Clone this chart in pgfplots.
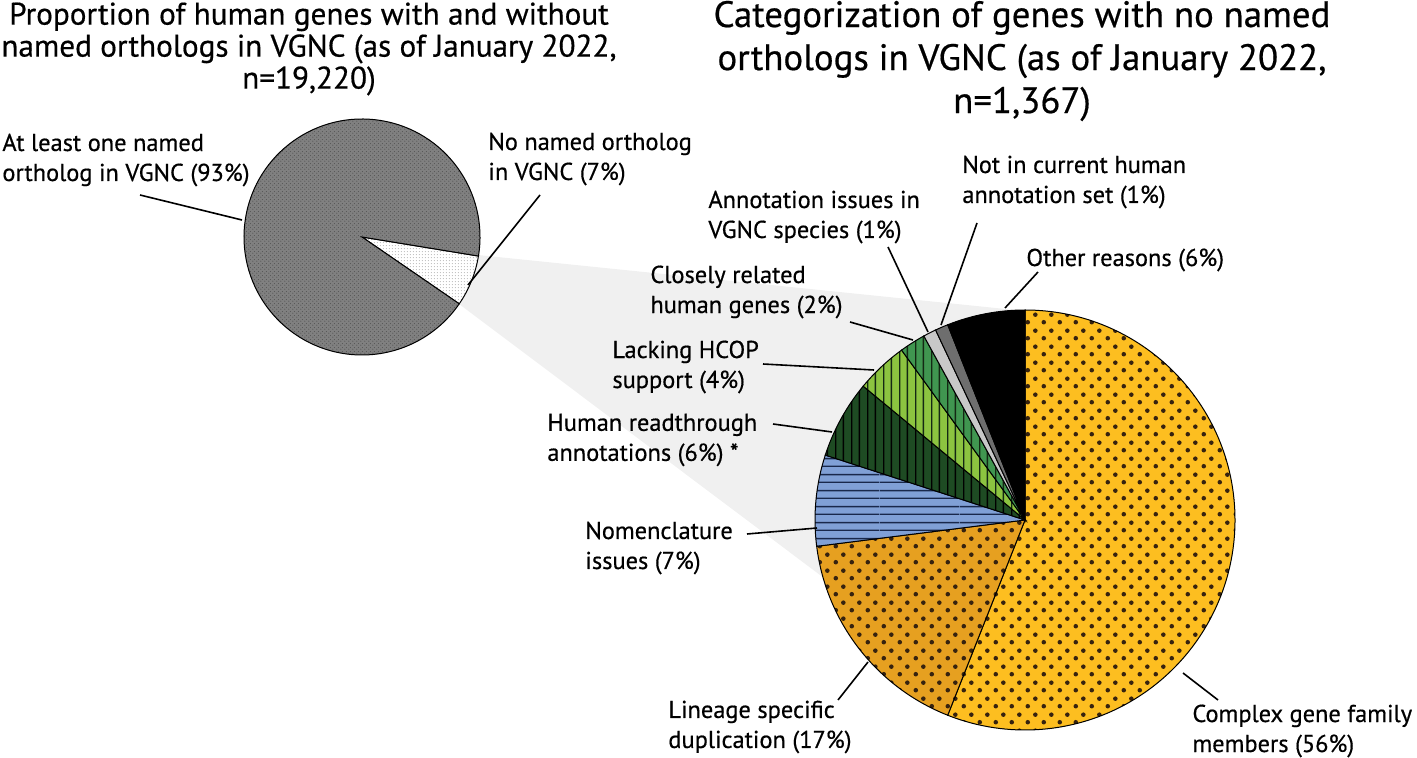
\documentclass[border=0pt]{standalone}
\usepackage{pgfplots}
\pgfplotsset{compat=1.18}
\usepackage{pgfplotstable}
\usepackage{fontspec}
\setmainfont{PT Sans}[FakeBold=0.5]
\usetikzlibrary{patterns.meta}

\definecolor{cComplex}{RGB}{253,190,32}
\definecolor{cLineage}{RGB}{230,160,32}
\definecolor{cNomen}{RGB}{128,160,214}
\definecolor{cRead}{RGB}{30,75,35}
\definecolor{cHCOP}{RGB}{140,196,64}
\definecolor{cClose}{RGB}{64,150,80}
\definecolor{cAnnot}{RGB}{200,200,200}
\definecolor{cNotin}{RGB}{110,110,110}
\definecolor{cDot}{RGB}{55,35,15}
\definecolor{cNavy}{RGB}{25,40,75}
\definecolor{cStripe}{RGB}{20,40,20}
\definecolor{cGrey}{RGB}{128,128,128}
\definecolor{cSpeckG}{RGB}{85,85,85}
\definecolor{cSpeckW}{RGB}{150,150,150}
\definecolor{cBand}{RGB}{240,240,240}

% patterns
\tikzdeclarepattern{name=stagdots, type=uncolored,
  bottom left={(0pt,0pt)}, top right={(8pt,8pt)}, tile size={(8pt,8pt)},
  code={\fill (2pt,2pt) circle (1.2pt); \fill (6pt,6pt) circle (1.2pt);}}
\tikzdeclarepattern{name=hlines, type=uncolored,
  bottom left={(0pt,0pt)}, top right={(40pt,8pt)}, tile size={(40pt,8pt)},
  code={\fill (0pt,1.65pt) rectangle (40pt,2.35pt);
        \fill (0pt,5.65pt) rectangle (40pt,6.35pt);}}
\tikzdeclarepattern{name=vlines, type=uncolored,
  bottom left={(0pt,0pt)}, top right={(8pt,40pt)}, tile size={(8pt,40pt)},
  code={\fill (1.65pt,0pt) rectangle (2.35pt,40pt);
        \fill (5.65pt,0pt) rectangle (6.35pt,40pt);}}
\tikzdeclarepattern{name=finedots, type=uncolored,
  bottom left={(0pt,0pt)}, top right={(1.6pt,1.6pt)}, tile size={(1.6pt,1.6pt)},
  code={\fill (0.8pt,0.8pt) circle (0.3pt);}}
\tikzdeclarepattern{name=speck, type=uncolored,
  bottom left={(0pt,0pt)}, top right={(2pt,2pt)}, tile size={(2pt,2pt)},
  code={\fill (0.5pt,0.5pt) circle (0.35pt); \fill (1.5pt,1.5pt) circle (0.35pt);}}

% slices: percent, fill colour, pattern, pattern colour
\pgfplotstableread[col sep=comma]{
pct,fill,pat,patcol
7,white,finedots,cSpeckW
93,cGrey,speck,cSpeckG
}\leftpie

\pgfplotstableread[col sep=comma]{
pct,fill,pat,patcol
56,cComplex,stagdots,cDot
17,cLineage,stagdots,cDot
7,cNomen,hlines,cNavy
6,cRead,vlines,black
4,cHCOP,vlines,cStripe
2,cClose,vlines,cStripe
1,cAnnot,hlines,cAnnot
1,cNotin,hlines,cNotin
6,black,hlines,black
}\rightpie

% table, cx, cy, radius, start angle, direction (+1 ccw, -1 cw)
\newcommand\drawpie[6]{%
  \pgfplotstablegetrowsof{#1}%
  \pgfmathtruncatemacro\lastrow{\pgfplotsretval-1}%
  \xdef\curang{#5}%
  \foreach \i in {0,...,\lastrow}{%
    \pgfplotstablegetelem{\i}{pct}\of#1\let\pct\pgfplotsretval
    \pgfplotstablegetelem{\i}{fill}\of#1\let\fc\pgfplotsretval
    \pgfplotstablegetelem{\i}{pat}\of#1\let\patname\pgfplotsretval
    \pgfplotstablegetelem{\i}{patcol}\of#1\let\pc\pgfplotsretval
    \pgfmathsetmacro\nxtang{\curang+#6*3.6*\pct}%
    \path[preaction={fill=\fc}, pattern=\patname, pattern color=\pc,
          draw=black, line width=0.5pt]
      (axis cs:#2,#3) -- ++(\curang:#4)
      arc[start angle=\curang, end angle=\nxtang, radius=#4] -- cycle;
    \xdef\curang{\nxtang}%
  }%
}

\newcommand\lbl{\fontsize{12.2}{15}\selectfont}

\begin{document}
\begin{tikzpicture}
\begin{axis}[
  x=0.5pt, y=0.5pt, y dir=reverse,
  xmin=0, xmax=1417, ymin=0, ymax=758,
  hide axis, clip=false,
]
\addplot[draw=none] coordinates {(0,0) (1417,758)};

% zoom band
\addplot[fill=cBand, draw=none] coordinates {
  (478,255) (1025,311) (1025,520) (880,620) (459,304)} -- cycle;

\pgfplotsextra{\drawpie{\leftpie}{362}{237}{59pt}{-34.5}{1}}
\pgfplotsextra{\drawpie{\rightpie}{1025}{520}{105pt}{90}{-1}}

% leader lines
\addplot[black, line width=0.8pt] coordinates {(140,195) (242,220)};
\addplot[black, line width=0.8pt] coordinates {(540,195) (468,285)};
\addplot[black, line width=0.8pt] coordinates {(888,247) (928,332)};
\addplot[black, line width=0.8pt] coordinates {(977,223) (941,325)};
\addplot[black, line width=0.8pt] coordinates {(1038,272) (1005,308)};
\addplot[black, line width=0.8pt] coordinates {(850,322) (913,340)};
\addplot[black, line width=0.8pt] coordinates {(763,364) (874,370)};
\addplot[black, line width=0.8pt] coordinates {(773,424) (832,432)};
\addplot[black, line width=0.8pt] coordinates {(747,534) (817,528)};
\addplot[black, line width=0.8pt] coordinates {(838,700) (868,662)};
\addplot[black, line width=0.8pt] coordinates {(1183,673) (1218,700)};

% titles
\node[align=center, font=\fontsize{15.6}{16}\selectfont] at (axis cs:309,49)
  {Proportion of human genes with and without\\named orthologs in VGNC (as of January 2022,\\n=19,220)};
\node[align=center, font=\fontsize{18.4}{21.5}\selectfont] at (axis cs:1022,61)
  {Categorization of genes with no named\\orthologs in VGNC (as of January 2022,\\n=1,367)};

% labels
\node[anchor=west, align=left, font=\lbl, inner sep=0pt] at (axis cs:2,160)
  {At least one named\\ortholog in VGNC (93\%)};
\node[anchor=west, align=left, font=\lbl, inner sep=0pt] at (axis cs:488,159)
  {No named ortholog\\in VGNC (7\%)};
\node[anchor=west, align=left, font=\lbl, inner sep=0pt] at (axis cs:708,217)
  {Annotation issues in\\VGNC species (1\%)};
\node[anchor=west, align=left, font=\lbl, inner sep=0pt] at (axis cs:962,182)
  {Not in current human\\annotation set (1\%)};
\node[anchor=west, align=left, font=\lbl, inner sep=0pt] at (axis cs:1026,260)
  {Other reasons (6\%)};
\node[anchor=west, align=left, font=\lbl, inner sep=0pt] at (axis cs:650,292)
  {Closely related\\human genes (2\%)};
\node[anchor=west, align=left, font=\lbl, inner sep=0pt] at (axis cs:612,367)
  {Lacking HCOP\\support (4\%)};
\node[anchor=west, align=left, font=\lbl, inner sep=0pt] at (axis cs:547,440)
  {Human readthrough\\annotations (6\%) *};
\node[anchor=west, align=left, font=\lbl, inner sep=0pt] at (axis cs:585,548)
  {Nomenclature\\issues (7\%)};
\node[anchor=west, align=left, font=\lbl, inner sep=0pt] at (axis cs:668,727)
  {Lineage specific\\duplication (17\%)};
\node[anchor=west, align=left, font=\lbl, inner sep=0pt] at (axis cs:1192,731)
  {Complex gene family\\members (56\%)};
\end{axis}
\pgfresetboundingbox
\path (current axis.south west) rectangle (current axis.north east);
\end{tikzpicture}
\end{document}
